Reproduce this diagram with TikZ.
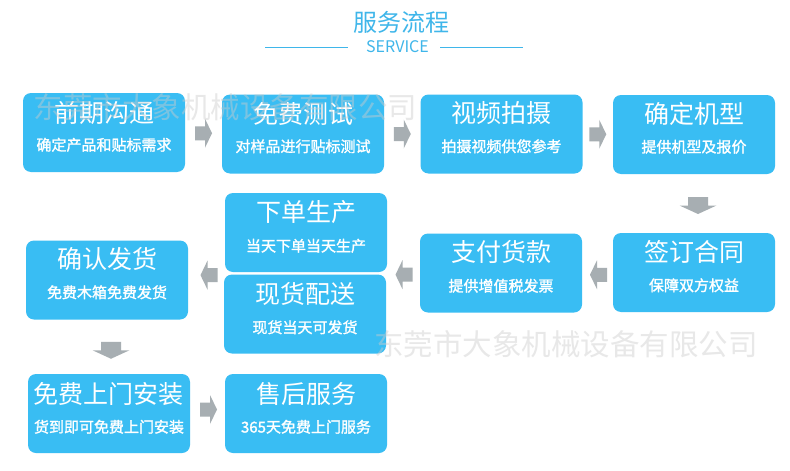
\documentclass[tikz,border=0pt]{standalone}
\usepackage{fontspec}
\setmainfont{Noto Sans CJK SC}
\newfontfamily\subfont[FakeBold=1.6]{Noto Sans CJK SC}
\usepackage{tikz}
\usetikzlibrary{positioning, calc}

\definecolor{boxblue}{HTML}{39BDF3}
\definecolor{headblue}{HTML}{3FB6EA}
\definecolor{arrgray}{HTML}{A7AEB2}

\tikzset{
    stepbox/.style={fill=boxblue, rounded corners=8pt, minimum width=162pt, minimum height=79pt, inner sep=0pt},
    boxtitle/.style={text=white, inner sep=0pt, font=\fontsize{25}{25}\selectfont},
    boxsub/.style={text=white, inner sep=0pt, font=\fontsize{15}{15}\subfont},
    wmark/.style={text=black!20, text opacity=0.45, inner sep=0pt, font=\fontsize{29.5}{30}\selectfont},
    rarrow/.pic={\fill[arrgray] (-8.5,-7) -- (1.5,-7) -- (1.5,-14.5) -- (8.5,0) -- (1.5,14.5) -- (1.5,7) -- (-8.5,7) -- cycle;},
    darrow/.pic={\fill[arrgray] (-10,-8.5) -- (10,-8.5) -- (10,0) -- (18.5,0) -- (0,8.5) -- (-18.5,0) -- (-10,0) -- cycle;}
}

\begin{document}
\begin{tikzpicture}[x=1pt, y=-1pt]
\useasboundingbox[fill=white] (0,0) rectangle (790,471);

% heading
\node[text=headblue, inner sep=0pt, font=\fontsize{24}{24}\selectfont] (head) at (401.5,22.5) {服务流程};
\node[text=headblue, inner sep=0pt, font=\fontsize{16}{16}\selectfont] (svc) at (397.5,47) {SERVICE};
\draw[headblue, line width=0.8pt] (265,47) -- (348,47);
\draw[headblue, line width=0.8pt] (440,47) -- (523,47);

% first row
\node[stepbox] (b1) at (104,132.5) {};
\node[boxtitle] (b1t) at ($(b1.north)+(0,20)$) {前期沟通};
\node[boxsub] (b1s) at ($(b1.north)+(0,52)$) {确定产品和贴标需求};

\node[stepbox] (b2) at (303,134) {};
\node[boxtitle] (b2t) at ($(b2.north)+(0,20)$) {免费测试};
\node[boxsub] (b2s) at ($(b2.north)+(0,52)$) {对样品进行贴标测试};

\node[stepbox] (b3) at (501.5,134) {};
\node[boxtitle] (b3t) at ($(b3.north)+(0,19)$) {视频拍摄};
\node[boxsub] (b3s) at ($(b3.north)+(0,52)$) {拍摄视频供您参考};

\node[stepbox] (b4) at (694,134.5) {};
\node[boxtitle] (b4t) at ($(b4.north)+(0,19)$) {确定机型};
\node[boxsub] (b4s) at ($(b4.north)+(0,52)$) {提供机型及报价};

% second row
\node[stepbox] (b5) at (694,272.5) {};
\node[boxtitle] (b5t) at ($(b5.north)+(0,19)$) {签订合同};
\node[boxsub] (b5s) at ($(b5.north)+(0,52.5)$) {保障双方权益};

\node[stepbox] (b6) at (501,273) {};
\node[boxtitle] (b6t) at ($(b6.north)+(0,19)$) {支付货款};
\node[boxsub] (b6s) at ($(b6.north)+(0,52.5)$) {提供增值税发票};

\node[stepbox] (b7) at (306,232.5) {};
\node[boxtitle] (b7t) at ($(b7.north)+(0,19)$) {下单生产};
\node[boxsub] (b7s) at ($(b7.north)+(0,53)$) {当天下单当天生产};

\node[stepbox] (b8) at (305,314) {};
\node[boxtitle] (b8t) at ($(b8.north)+(0,20)$) {现货配送};
\node[boxsub] (b8s) at ($(b8.north)+(0,53)$) {现货当天可发货};

\node[stepbox] (b9) at (107,280) {};
\node[boxtitle] (b9t) at ($(b9.north)+(0,19)$) {确认发货};
\node[boxsub] (b9s) at ($(b9.north)+(0,52)$) {免费木箱免费发货};

% last row
\node[stepbox] (b10) at (109,413.5) {};
\node[boxtitle] (b10t) at ($(b10.north)+(0,20)$) {免费上门安装};
\node[boxsub] (b10s) at ($(b10.north)+(0,53)$) {货到即可免费上门安装};

\node[stepbox] (b11) at (306,413.5) {};
\node[boxtitle] (b11t) at ($(b11.north)+(0,20)$) {售后服务};
\node[boxsub] (b11s) at ($(b11.north)+(0,53)$) {365天免费上门服务};

% arrows
\coordinate (a12) at ($(b1.east)!0.5!(b2.west)$);
\coordinate (a23) at ($(b2.east)!0.5!(b3.west)$);
\coordinate (a34) at ($(b3.east)!0.5!(b4.west)$);
\coordinate (a45) at ($(b4.south)!0.5!(b5.north)+(4,2)$);
\coordinate (a56) at ($(b5.west)!0.5!(b6.east)+(1,2)$);
\coordinate (a68) at ($(b6.west)!0.5!(b8.north east)+(1,1)$);
\coordinate (a89) at ($(b9.east)!0.5!(b8.north west)+(3,-2)$);
\coordinate (a910) at ($(b9.south)!0.5!(b10.north)+(3,3.5)$);
\coordinate (a1011) at ($(b10.east)!0.5!(b11.west)+(1,-4)$);
\pic at (a12) {rarrow};
\pic at (a23) {rarrow};
\pic at (a34) {rarrow};
\pic at (a45) {darrow};
\pic[rotate=180] at (a56) {rarrow};
\pic[rotate=180] at (a68) {rarrow};
\pic[rotate=180] at (a89) {rarrow};
\pic at (a910) {darrow};
\pic at (a1011) {rarrow};

% watermark
\node[wmark] (wm1) at (225.5,107.5) {东莞市大象机械设备有限公司};
\node[wmark] (wm2) at (566,344) {东莞市大象机械设备有限公司};
\end{tikzpicture}
\end{document}
